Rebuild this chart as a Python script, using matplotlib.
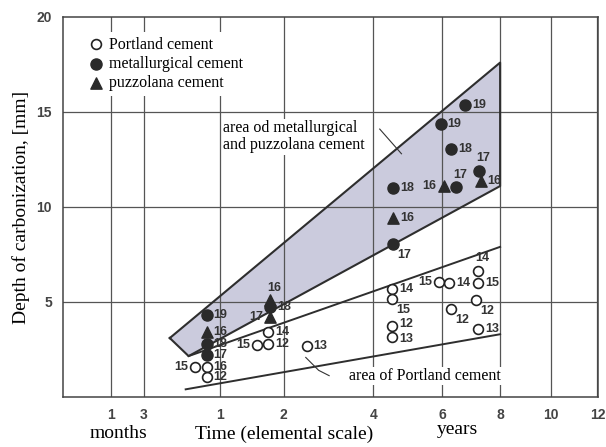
import numpy as np
import matplotlib
matplotlib.use('Agg')
import matplotlib.pyplot as plt

# time in years, depth of carbonization in mm, sample number next to each point
portland_t = [0.70, 0.83, 0.83, 1.54, 1.72, 1.73, 2.45, 4.5, 4.5, 4.5, 4.5,
              5.9, 6.22, 6.28, 7.2, 7.2, 7.15, 7.2]
portland_d = [1.6, 1.6, 1.05, 2.75, 2.8, 3.4, 2.7, 5.7, 5.15, 3.72, 3.18,
              6.05, 6.0, 4.65, 6.63, 6.0, 5.12, 3.56]
portland_n = [15, 16, 12, 15, 12, 14, 13, 14, 15, 12, 13, 15, 14, 12, 14, 15, 12, 13]
portland_pos = ['l', 'r', 'r', 'l', 'r', 'r', 'r', 'r', 'b', 'ru', 'rd',
                'l', 'r', 'b', 't', 'r', 'b', 'r']

metal_t = [0.83, 0.83, 0.83, 1.76, 4.54, 4.54, 5.95, 6.75, 6.3, 7.25, 6.45]
metal_d = [4.3, 2.8, 2.2, 4.75, 11.0, 8.05, 14.38, 15.35, 13.03, 11.9, 11.04]
metal_n = [19, 18, 17, 18, 18, 17, 19, 19, 18, 17, 17]
metal_pos = ['r', 'r', 'r', 'r', 'r', 'b', 'r', 'r', 'r', 't', 't']

puzz_t = [0.83, 1.76, 1.76, 4.54, 6.05, 7.3]
puzz_d = [3.4, 5.1, 4.2, 9.4, 11.1, 11.38]
puzz_n = [16, 16, 17, 16, 16, 16]
puzz_pos = ['r', 't', 'l', 'r', 'l', 'r']

# area boundaries (time in years, depth in mm)
band_t = [0.45, 8, 8, 0.63]
band_d = [3.1, 17.6, 11.1, 2.15]
pc_upper_t = [0.63, 8]
pc_upper_d = [2.15, 7.9]
pc_lower_t = [0.6, 8]
pc_lower_d = [0.4, 3.3]

tick_t = [1 / 12, 3 / 12, 1, 2, 4, 6, 8, 10, 12]
tick_lab = ['1', '3', '1', '2', '4', '6', '8', '10', '12']


def fwd(x):
    x = np.asarray(x, dtype=float)
    return np.sign(x) * np.sqrt(np.abs(x))


def inv(x):
    x = np.asarray(x, dtype=float)
    return np.sign(x) * x ** 2


serif = 'Liberation Serif'
numfont = ['Liberation Sans Narrow', 'Liberation Sans']
dark = '#333333'

fig = plt.figure(figsize=(6.06, 4.47), dpi=100)
ax = fig.add_axes([0.104, 0.112, 0.883, 0.850])
ax.set_xscale('function', functions=(fwd, inv))
ax.set_xlim(-0.0007, 12.03)
ax.set_ylim(0, 20)

# grid
for t in tick_t:
    ax.axvline(t, color='#555555', lw=0.9, zorder=1.5)
for y in [5, 10, 15]:
    ax.axhline(y, color='#555555', lw=0.9, zorder=1.5)

# shaded area of metallurgical and puzzolana cement
ax.fill(band_t, band_d, facecolor='#cbcbdd', edgecolor='none', zorder=1)
ax.plot(band_t + band_t[:1], band_d + band_d[:1], color='#2e2e2e', lw=1.5, zorder=2)
ax.plot(pc_upper_t, pc_upper_d, color='#2e2e2e', lw=1.4, zorder=2)
ax.plot(pc_lower_t, pc_lower_d, color='#2e2e2e', lw=1.4, zorder=2)

# points
ax.scatter(portland_t, portland_d, s=50, facecolor='white', edgecolor='#222222',
           lw=1.2, zorder=4, label='Portland cement')
ax.scatter(metal_t, metal_d, s=64, color='#2a2a2a', zorder=4,
           label='metallurgical cement')
ax.scatter(puzz_t, puzz_d, s=66, marker='^', color='#2a2a2a', zorder=4,
           label='puzzolana cement')

offs = {'r': ((5, 0), 'left', 'center'),
        'ru': ((5, 1.8), 'left', 'center'),
        'rd': ((5, -1.8), 'left', 'center'),
        'l': ((-5, 0), 'right', 'center'),
        't': ((3, 9), 'center', 'center'),
        'b': ((3, -8), 'left', 'center')}
for ts, ds, ns, ps in [(portland_t, portland_d, portland_n, portland_pos),
                       (metal_t, metal_d, metal_n, metal_pos),
                       (puzz_t, puzz_d, puzz_n, puzz_pos)]:
    for t, d, n, p in zip(ts, ds, ns, ps):
        off, ha, va = offs[p]
        ax.annotate(str(n), (t, d), xytext=off, textcoords='offset points',
                    ha=ha, va=va, fontsize=9, fontweight='bold',
                    family=numfont, color=dark, zorder=5)

# area labels
ax.text(1.04, 13.7, 'area od metallurgical\nand puzzolana cement',
        family=serif, fontsize=11.5, va='center', ha='left', linespacing=1.1,
        bbox=dict(facecolor='white', edgecolor='none', pad=1), zorder=3)
ax.plot([4.17, 4.77], [14.1, 12.8], color=dark, lw=0.8, zorder=3)
ax.text(3.4, 1.1, 'area of Portland cement', family=serif, fontsize=11.5,
        va='center', ha='left',
        bbox=dict(facecolor='white', edgecolor='none', pad=1), zorder=3)
ax.plot([2.43, 2.7, 2.93], [2.08, 1.4, 1.12], color=dark, lw=0.8, zorder=3)

# axes and ticks
ax.set_xticks(tick_t)
ax.set_xticklabels(tick_lab)
ax.set_yticks([5, 10, 15, 20])
ax.tick_params(length=0, pad=8, labelsize=10, colors='#444444')
for lab in ax.get_xticklabels() + ax.get_yticklabels():
    lab.set_fontweight('bold')
    lab.set_family(numfont)
for sp in ax.spines.values():
    sp.set_color('#444444')
    sp.set_linewidth(1.1)

ax.set_ylabel('Depth of carbonization, [mm]', family=serif, fontsize=14)
ax.yaxis.set_label_coords(-0.062, 0.5)
fig.text(118 / 606, 1 - 434 / 447, 'months', family=serif, fontsize=14,
         ha='center', va='center')
fig.text(284 / 606, 1 - 434 / 447, 'Time (elemental scale)', family=serif,
         fontsize=14, ha='center', va='center')
fig.text(457 / 606, 1 - 429 / 447, 'years', family=serif, fontsize=14,
         ha='center', va='center')

leg = ax.legend(loc='upper left', bbox_to_anchor=(0.02, 0.982), frameon=True,
                prop={'family': serif, 'size': 11.5}, handletextpad=0.2,
                labelspacing=0.2, borderpad=0.3, handlelength=1.2,
                fancybox=False)
leg.get_frame().set_edgecolor('none')
leg.get_frame().set_facecolor('white')
leg.get_frame().set_alpha(1)
leg.set_zorder(6)

fig.savefig('out.png', dpi=100)
